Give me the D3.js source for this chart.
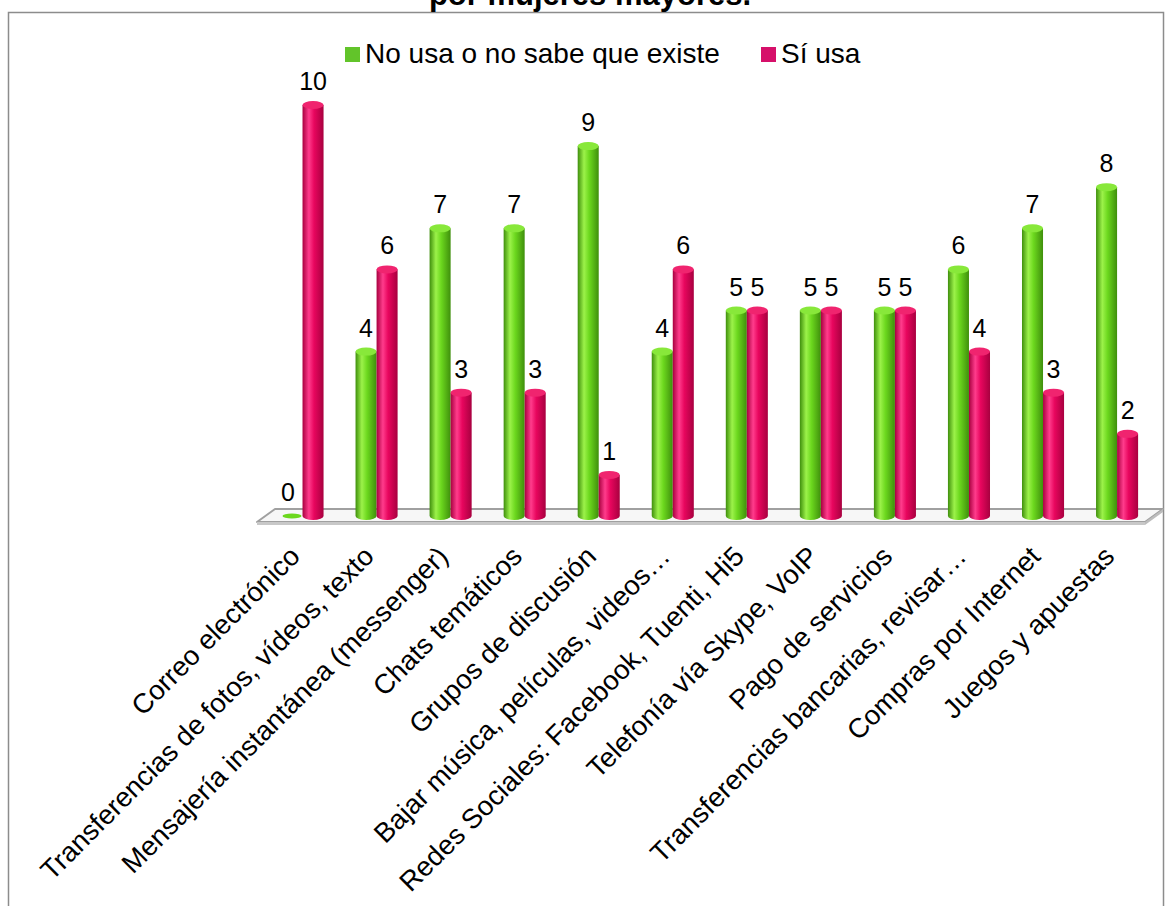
<!DOCTYPE html>
<html>
<head>
<meta charset="utf-8">
<script src="https://cdn.jsdelivr.net/npm/d3@7"></script>
<style>
  html, body { margin: 0; padding: 0; background: #ffffff; }
  svg { display: block; font-family: "Liberation Sans", Arial, sans-serif; }
</style>
</head>
<body>
<svg id="chart" width="1172" height="906"></svg>
<script>
const categories = [
  "Correo electrónico",
  "Transferencias de fotos, vídeos, texto",
  "Mensajería instantánea (messenger)",
  "Chats temáticos",
  "Grupos de discusión",
  "Bajar música, películas, videos…",
  "Redes Sociales: Facebook, Tuenti, Hi5",
  "Telefonía vía Skype, VoIP",
  "Pago de servicios",
  "Transferencias bancarias, revisar…",
  "Compras por Internet",
  "Juegos y apuestas"
];
const seriesNames = ["No usa o no sabe que existe", "Sí usa"];
const noUsa = [0, 4, 7, 7, 9, 4, 5, 5, 5, 6, 7, 8];
const siUsa = [10, 6, 3, 3, 1, 6, 5, 5, 5, 4, 3, 2];
const titleText = "por mujeres mayores.";

const svg = d3.select("#chart");
const defs = svg.append("defs");

const palettes = [
  { id: "gGreen", dark: "#3f8f0c", mid: "#6cd81e", light: "#9cf24a", cap: "#88e83a", swatch: "#62c42a" },
  { id: "gPink",  dark: "#a8003f", mid: "#e8065e", light: "#ff3c8c", cap: "#f0246f", swatch: "#d6106a" }
];
palettes.forEach(p => {
  const g = defs.append("linearGradient").attr("id", p.id).attr("x1", "0").attr("x2", "1").attr("y1", "0").attr("y2", "0");
  g.append("stop").attr("offset", "0%").attr("stop-color", p.dark);
  g.append("stop").attr("offset", "30%").attr("stop-color", p.light);
  g.append("stop").attr("offset", "55%").attr("stop-color", p.mid);
  g.append("stop").attr("offset", "100%").attr("stop-color", p.dark);
});

// border
svg.append("rect").attr("x", 8.5).attr("y", 12.5).attr("width", 1155).attr("height", 910)
  .attr("fill", "none").attr("stroke", "#8c8c8c").attr("stroke-width", 1.5);

// title (cut off at the top, as in the reference)
svg.append("text").attr("x", 590).attr("y", 5).attr("text-anchor", "middle")
  .attr("font-size", 31).attr("font-weight", "bold").attr("fill", "#000").text(titleText);

// scales
const x = d3.scaleBand().domain(categories).range([265.5, 1154.1]).paddingInner(0.432).paddingOuter(0.216);
const xs = d3.scaleBand().domain(seriesNames).range([0, x.bandwidth()]);
const y = d3.scaleLinear().domain([0, 10]).range([516, 105]);

// floor
const floorG = svg.append("g");
floorG.append("polygon")
  .attr("points", "257,522 275,509 1163,509 1145,522")
  .attr("fill", "#f7f7f7").attr("stroke", "#a0a0a0").attr("stroke-width", 2).attr("stroke-linejoin", "round");
floorG.append("polygon")
  .attr("points", "257,522 1145,522 1145,525 257,525")
  .attr("fill", "#c8c8c8");
floorG.append("polygon")
  .attr("points", "1145,522 1163,509 1163,512 1145,525")
  .attr("fill", "#bdbdbd");

// bars
const data = [];
categories.forEach((c, i) => {
  data.push({ cat: c, s: 0, v: noUsa[i] });
  data.push({ cat: c, s: 1, v: siUsa[i] });
});

const barsG = svg.append("g");
const ry = 4;
data.forEach(d => {
  const p = palettes[d.s];
  const x0 = x(d.cat) + xs(seriesNames[d.s]);
  const w = xs.bandwidth();
  const yTop = y(d.v);
  const yBase = y(0);
  const g = barsG.append("g");
  if (d.v > 0) {
    g.append("path")
      .attr("d", `M${x0},${yTop} L${x0},${yBase} A${w/2},${ry} 0 0 0 ${x0 + w},${yBase} L${x0 + w},${yTop} Z`)
      .attr("fill", `url(#${p.id})`);
    g.append("ellipse").attr("cx", x0 + w / 2).attr("cy", yTop).attr("rx", w / 2).attr("ry", ry)
      .attr("fill", p.cap);
  } else {
    g.append("ellipse").attr("cx", x0 + w / 2).attr("cy", yBase).attr("rx", w / 2 - 1).attr("ry", 2.5)
      .attr("fill", p.mid);
  }
  g.append("text")
    .attr("x", x0 + w / 2 - (d.v === 0 ? 4 : 0))
    .attr("y", yTop - 15)
    .attr("text-anchor", "middle")
    .attr("font-size", 25)
    .attr("fill", "#000")
    .text(d.v);
});

// category labels, rotated
svg.append("g").selectAll("text").data(categories).join("text")
  .attr("transform", d => `translate(${x(d) + x.bandwidth() / 2 - 1},558) rotate(-45)`)
  .attr("text-anchor", "end")
  .attr("font-size", 27.5)
  .attr("fill", "#000")
  .text(d => d);

// legend
const legend = svg.append("g");
const legendX = [345, 761];
seriesNames.forEach((name, i) => {
  legend.append("rect").attr("x", legendX[i]).attr("y", 47).attr("width", 15).attr("height", 15)
    .attr("fill", palettes[i].swatch);
  legend.append("text").attr("x", legendX[i] + 20).attr("y", 63)
    .attr("font-size", 28).attr("fill", "#000").text(name);
});
</script>
</body>
</html>
